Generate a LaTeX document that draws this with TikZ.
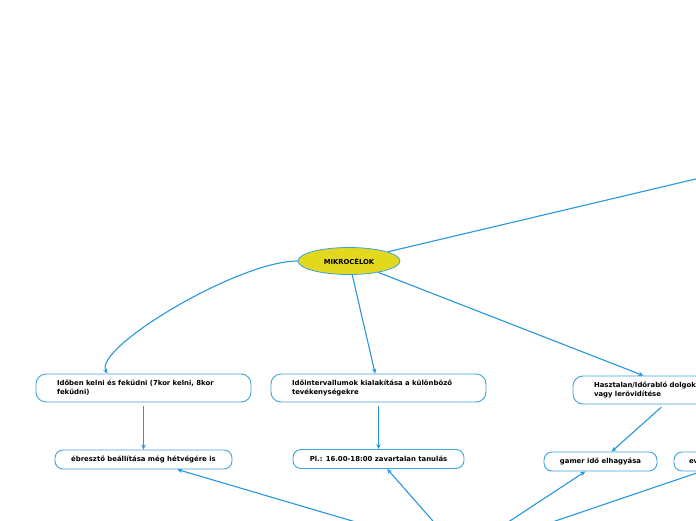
\documentclass[tikz,border=0pt]{standalone}
\usepackage{fontspec}
\setmainfont{DejaVu Sans}
\usepackage{tikz}
\usetikzlibrary{arrows.meta,calc,shapes.geometric}

\definecolor{mmblue}{HTML}{2896DC}
\definecolor{mmedge}{HTML}{3FA2E0}
\definecolor{mmyellow}{HTML}{E2D81E}

\begin{document}
\begin{tikzpicture}[x=1pt, y=-1pt,
  root/.style={ellipse, draw=mmedge, fill=mmyellow, line width=0.8pt, minimum width=102pt, minimum height=27pt, inner sep=0pt, font=\fontsize{6.8}{8}\selectfont\bfseries},
  topic/.style={draw=mmedge, rounded corners=10pt, fill=white, line width=0.9pt, text width=173pt, inner xsep=21pt, minimum height=28pt, align=left, font=\fontsize{6.9}{9}\selectfont\bfseries},
  leaf/.style={draw=mmedge, rounded corners=8pt, fill=white, line width=0.9pt, minimum height=19pt, inner sep=0pt, align=center, font=\fontsize{6.9}{9}\selectfont\bfseries},
  arr/.style={-{Stealth[length=5pt,width=4.5pt]}, draw=mmblue, line width=1.1pt},
  conn/.style={draw=mmblue, line width=1.1pt}
]
\useasboundingbox (0,0) rectangle (696,520);
\clip (0,0) rectangle (696,520);

\coordinate (parent) at (1000,107);
\coordinate (hub) at (461,553);

\node[root] (mikro) at (349,261) {MIKROCÉLOK};

\node[topic] (kelni)   at (143.5,388) {Időben kelni és feküdni (7kor kelni, 8kor feküdni)};
\node[topic] (idoint)  at (378.5,388) {Időintervallumok kialakítása a különböző tevékenységekre};
\node[topic] (haszt)   at (680.5,390) {Hasztalan/Időrabló dolgok\\vagy lerövidítése};

\node[leaf, minimum width=177pt] (ebreszto) at (143.5,459.5) {ébresztő beállítása még hétvégére is};
\node[leaf, minimum width=171pt] (tanulas)  at (378.5,459)   {Pl.: 16.00-18:00 zavartalan tanulás};
\node[leaf, minimum width=113pt] (gamer)    at (600.5,461.5) {gamer idő elhagyása};
\node[leaf, minimum width=113pt, text width=83pt, align=left] (ev) at (730.5,461.5) {ev};

% root connections
\draw[conn] (mikro) -- (parent);
\draw[arr] (mikro.west) .. controls +(-60,0) and +(-15,-25) .. ($(kelni.north)+(-36,0)$);
\draw[arr] (mikro) -- (idoint);
\draw[arr] (mikro) -- (haszt);

% children
\draw[arr, shorten <=4pt] (kelni) -- (ebreszto);
\draw[arr, shorten <=4pt] (idoint) -- (tanulas);
\draw[arr, shorten <=4pt] (haszt) -- (gamer);

% from the lower node
\draw[arr] (hub) -- (ebreszto);
\draw[arr] (hub) -- (tanulas);
\draw[arr] (hub) -- (gamer);
\draw[arr] (hub) -- (ev);

\end{tikzpicture}
\end{document}
